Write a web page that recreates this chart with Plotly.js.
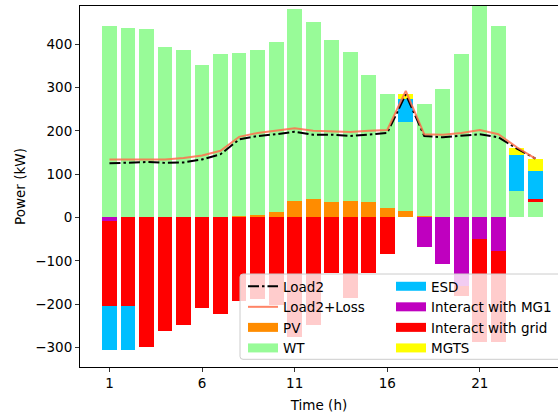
<!DOCTYPE html>
<html>
<head>
<meta charset="utf-8">
<script src="https://cdn.plot.ly/plotly-3.0.1.min.js"></script>
<style>html,body{margin:0;padding:0;background:#fff;}#chart{width:558px;height:414px;}</style>
</head>
<body>
<div id="chart"></div>
<script>
// Hours
const hours = [1,2,3,4,5,6,7,8,9,10,11,12,13,14,15,16,17,18,19,20,21,22,23,24];
// Lines (kW)
const load2     = [125,126,128,126,127,134,146,180,188,192,198,191,191,188,192,195,284,188,185,189,192,185,159,136];
const load2Loss = [134,134,135,134,137,143,154,186,195,200,206,200,198,197,200,202,292,192,191,195,202,192,162,136];
// Stacked bar components (kW)
const pv   = [0,0,0,0,0,0,0,3,5,12,37,43,35,37,35,23,14,4,0,0,0,0,0,0];
const wt   = [441,438,435,393,387,352,377,376,382,393,444,407,374,344,293,261,206,257,296,378,500,441,61,35];
const mg1  = [-8,0,0,0,0,0,0,0,0,0,0,0,0,0,0,0,0,-69,-107,-157,-50,-77,0,0];
const grid = [-196,-205,-299,-262,-248,-209,-222,-192,-189,-203,-275,-249,-128,-186,-128,-85,0,0,0,-25,-237,-210,0,7];
const esd  = [-101,-101,0,0,0,0,0,0,0,0,0,0,0,0,0,0,53,0,0,0,0,0,83,65];
const mgts = [0,0,0,0,0,0,0,0,0,0,0,0,0,0,0,0,13,0,0,0,0,0,17,29];

const names = {pv:'PV', wt:'WT', esd:'ESD', mg1:'Interact with MG1', grid:'Interact with grid', mgts:'MGTS'};
const colors = {pv:'#FF8C00', wt:'#98FB98', esd:'#00BFFF', mg1:'#BF00BF', grid:'#FF0000', mgts:'#FFFF00'};
const series = {pv, wt, mg1, grid, esd, mgts};

const FONT = 'DejaVu Sans, Liberation Sans, sans-serif';
const data = [];

data.push({type:'scatter', mode:'lines', x:hours, y:load2, name:'Load2', legend:'legend',
  line:{color:'#000000', width:2, dash:'11px,3px,2.5px,3px'}});
data.push({type:'scatter', mode:'lines', x:hours, y:load2Loss, name:'Load2+Loss', legend:'legend',
  line:{color:'rgba(255,110,75,0.85)', width:2}});

// stacking order (bottom-up positive, top-down negative)
['pv','wt','mg1','grid','esd','mgts'].forEach(k => {
  data.push({type:'bar', x:hours, y:series[k], name:names[k], width:0.8,
    marker:{color:colors[k], line:{width:0}}, showlegend:false, hoverinfo:'x+y+name'});
});

// legend handles (patch-like)
[['pv','legend'],['wt','legend'],['esd','legend2'],['mg1','legend2'],['grid','legend2'],['mgts','legend2']].forEach(([k,lg]) => {
  data.push({type:'scatter', mode:'lines', x:[null], y:[null], name:names[k], legend:lg,
    line:{color:colors[k], width:9}, hoverinfo:'skip'});
});

const L = 80, T = 6, W = 478, H = 361;
const px2x = p => (p - L) / W;
const px2y = p => (T + H - p) / H;

const legBase = {bgcolor:'rgba(0,0,0,0)', borderwidth:0, xanchor:'left', yanchor:'top',
  font:{family:FONT, size:13.5, color:'#000'}, tracegroupgap:0, itemwidth:30, itemclick:false};

const x0 = px2x(240), x1 = 1.05, y0 = px2y(359.3), y1 = px2y(274);
const rx = 3 / W, ry = 3 / H;
const framePath = `M${x0+rx},${y1} L${x1},${y1} L${x1},${y0} L${x0+rx},${y0} Q${x0},${y0} ${x0},${y0+ry} L${x0},${y1-ry} Q${x0},${y1} ${x0+rx},${y1} Z`;

const layout = {
  width:558, height:414,
  margin:{l:L, r:0, t:T, b:414-T-H},
  paper_bgcolor:'#ffffff', plot_bgcolor:'#ffffff',
  font:{family:FONT, size:13.5, color:'#000'},
  barmode:'relative', bargap:0,
  showlegend:true,
  xaxis:{range:[-0.59, 25.22], tickvals:[1,6,11,16,21], ticktext:['1','6','11','16','21'],
    showgrid:false, zeroline:false, showline:true, linecolor:'#000', linewidth:1, mirror:true,
    ticks:'outside', ticklen:4, tickwidth:0.8, tickcolor:'#000',
    title:{text:'Time (h)', font:{family:FONT, size:13.5}, standoff:10}},
  yaxis:{range:[-345, 488], tickvals:[-300,-200,-100,0,100,200,300,400],
    ticktext:['\u2212300','\u2212200','\u2212100','0','100','200','300','400'],
    showgrid:false, zeroline:false, showline:true, linecolor:'#000', linewidth:1, mirror:false,
    ticks:'outside', ticklen:4, tickwidth:0.8, tickcolor:'#000',
    title:{text:'Power (kW)', font:{family:FONT, size:13.5}, standoff:6}},
  legend: Object.assign({}, legBase, {x:px2x(243), y:px2y(271)}),
  legend2: Object.assign({}, legBase, {x:px2x(391), y:px2y(271)}),
  shapes:[{type:'path', xref:'paper', yref:'paper', path:framePath,
    fillcolor:'rgba(255,255,255,0.8)', line:{color:'#cccccc', width:1}, layer:'above'}]
};

Plotly.newPlot('chart', data, layout, {displayModeBar:false, staticPlot:true});
</script>
</body>
</html>
